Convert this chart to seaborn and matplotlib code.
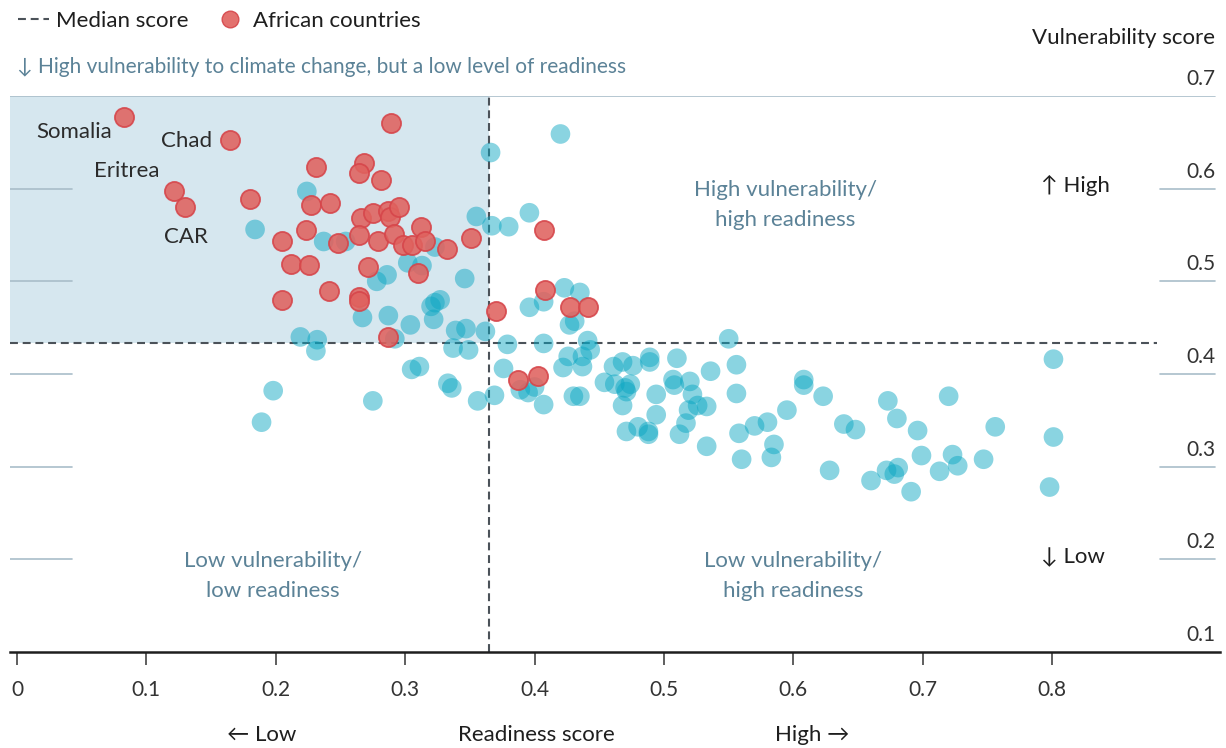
import numpy as np
import pandas as pd
import matplotlib.pyplot as plt
import seaborn as sns
from matplotlib.lines import Line2D
from matplotlib.patches import Rectangle

# Values: readiness score (x) and vulnerability score (y)
african_readiness = [
    0.083, 0.165, 0.289, 0.121, 0.130, 0.231, 0.268, 0.264, 0.281, 0.180,
    0.227, 0.242, 0.266, 0.275, 0.287, 0.288, 0.295, 0.312, 0.223, 0.264,
    0.205, 0.248, 0.279, 0.291, 0.298, 0.305, 0.315, 0.332, 0.351, 0.212,
    0.226, 0.271, 0.310, 0.241, 0.264, 0.264, 0.205, 0.370, 0.287, 0.407,
    0.408, 0.427, 0.441, 0.387, 0.403,
]
african_vulnerability = [
    0.677, 0.652, 0.671, 0.597, 0.580, 0.623, 0.628, 0.617, 0.609, 0.589,
    0.582, 0.585, 0.568, 0.574, 0.576, 0.569, 0.580, 0.559, 0.555, 0.550,
    0.544, 0.541, 0.544, 0.551, 0.539, 0.539, 0.543, 0.535, 0.547, 0.519,
    0.518, 0.515, 0.509, 0.490, 0.483, 0.479, 0.480, 0.468, 0.440, 0.555,
    0.491, 0.472, 0.472, 0.394, 0.398,
]
other_readiness = [
    0.420, 0.366, 0.224, 0.184, 0.396, 0.355, 0.367, 0.380, 0.237, 0.254,
    0.323, 0.302, 0.313, 0.286, 0.278, 0.346, 0.423, 0.435, 0.396, 0.407,
    0.327, 0.323, 0.320, 0.267, 0.287, 0.304, 0.322, 0.427, 0.431, 0.339,
    0.347, 0.362, 0.292, 0.441, 0.379, 0.407, 0.219, 0.232, 0.231, 0.337,
    0.349, 0.443, 0.437, 0.426, 0.422, 0.437, 0.376, 0.305, 0.311, 0.333,
    0.336, 0.389, 0.395, 0.400, 0.369, 0.356, 0.407, 0.430, 0.435, 0.275,
    0.198, 0.189,
    0.461, 0.468, 0.476, 0.489, 0.489, 0.510, 0.536, 0.556, 0.550, 0.454,
    0.462, 0.470, 0.474, 0.471, 0.507, 0.508, 0.520, 0.522, 0.494, 0.468,
    0.494, 0.526, 0.533, 0.519, 0.517, 0.512, 0.471, 0.480, 0.488, 0.488,
    0.556, 0.608, 0.608, 0.623, 0.595, 0.570, 0.580, 0.558, 0.585, 0.583,
    0.560, 0.533, 0.628, 0.639, 0.648, 0.673, 0.680, 0.696, 0.720, 0.756,
    0.660, 0.672, 0.681, 0.678, 0.691, 0.699, 0.713, 0.723, 0.727, 0.747,
    0.801, 0.801, 0.798,
]
other_vulnerability = [
    0.659, 0.639, 0.597, 0.556, 0.574, 0.570, 0.560, 0.559, 0.543, 0.543,
    0.537, 0.520, 0.517, 0.507, 0.500, 0.503, 0.493, 0.488, 0.472, 0.478,
    0.480, 0.477, 0.473, 0.461, 0.463, 0.453, 0.459, 0.453, 0.457, 0.447,
    0.449, 0.446, 0.438, 0.436, 0.432, 0.433, 0.440, 0.437, 0.425, 0.428,
    0.426, 0.426, 0.419, 0.419, 0.407, 0.408, 0.406, 0.405, 0.408, 0.390,
    0.385, 0.383, 0.380, 0.386, 0.377, 0.371, 0.367, 0.376, 0.376, 0.371,
    0.382, 0.348,
    0.408, 0.413, 0.409, 0.418, 0.413, 0.417, 0.403, 0.410, 0.438, 0.391,
    0.389, 0.385, 0.389, 0.381, 0.394, 0.388, 0.392, 0.378, 0.378, 0.366,
    0.356, 0.366, 0.365, 0.361, 0.347, 0.335, 0.338, 0.343, 0.338, 0.335,
    0.379, 0.394, 0.388, 0.376, 0.361, 0.344, 0.348, 0.336, 0.324, 0.310,
    0.308, 0.322, 0.296, 0.346, 0.340, 0.371, 0.352, 0.339, 0.376, 0.343,
    0.285, 0.296, 0.299, 0.292, 0.273, 0.312, 0.295, 0.313, 0.301, 0.308,
    0.416, 0.332, 0.278,
]
labelled = ["Somalia", "Chad", "Eritrea", "CAR"]
labelled_index = [0, 1, 3, 4]

median_readiness = 0.365
median_vulnerability = 0.433

x_ticks = [0, 0.1, 0.2, 0.3, 0.4, 0.5, 0.6, 0.7, 0.8]
x_tick_labels = ["0", "0.1", "0.2", "0.3", "0.4", "0.5", "0.6", "0.7", "0.8"]
y_ticks = [0.1, 0.2, 0.3, 0.4, 0.5, 0.6, 0.7]
y_tick_labels = ["0.1", "0.2", "0.3", "0.4", "0.5", "0.6", "0.7"]

africa = pd.DataFrame({"readiness": african_readiness, "vulnerability": african_vulnerability})
others = pd.DataFrame({"readiness": other_readiness, "vulnerability": other_vulnerability})

BLUE = "#0aa6c2"
RED_FILL = "#e0625e"
RED_EDGE = "#d6454a"
DASH = "#4b5259"
SLATE = "#5b8297"
GRID = "#a9bdc9"
DARK = "#1e1e1e"

sns.set_theme(style="white")
plt.rcParams["font.family"] = ["Lato", "DejaVu Sans"]

fig = plt.figure(figsize=(12.26, 7.48), dpi=100)
ax = fig.add_axes([10 / 1226, 96 / 748, 1210 / 1226, 556 / 748])
x_left, x_right = -0.0054, 0.9297
ax.set_xlim(x_left, x_right)
ax.set_ylim(0.1, 0.7)

# shaded quadrant: high vulnerability, low readiness
ax.add_patch(Rectangle((x_left, median_vulnerability), median_readiness - x_left,
                       0.7 - median_vulnerability, facecolor="#d6e7ef",
                       edgecolor="none", zorder=0))

# gridlines: full at the top, short stubs at both sides otherwise
for y in y_ticks[1:-1]:
    ax.axhline(y, xmin=0, xmax=0.051, color=GRID, lw=1.2, zorder=1)
    ax.axhline(y, xmin=0.950, xmax=0.996, color=GRID, lw=1.2, zorder=1)
ax.axhline(0.7, xmin=0, xmax=0.996, color=GRID, lw=1.2, zorder=1)

for y, lab in zip(y_ticks, y_tick_labels):
    ax.annotate(lab, xy=(0.996, y), xycoords=("axes fraction", "data"),
                xytext=(0, 7), textcoords="offset pixels", ha="right",
                va="bottom", fontsize=15, color="#333333")

# median lines
dash = (0, (3.8, 2.3))
ax.axhline(median_vulnerability, xmin=0, xmax=0.948, color=DASH, lw=1.5, ls=dash, zorder=2)
ax.axvline(median_readiness, ymin=0, ymax=1, color=DASH, lw=1.5, ls=dash, zorder=2)

sns.scatterplot(data=others, x="readiness", y="vulnerability", ax=ax, s=200,
                color=BLUE, alpha=0.48, edgecolor="none", linewidth=0, zorder=3)
sns.scatterplot(data=africa, x="readiness", y="vulnerability", ax=ax, s=190,
                facecolor=RED_FILL, alpha=0.88, edgecolor=RED_EDGE, linewidth=1.3,
                zorder=4)

# country labels
offsets = {"Somalia": (-12, -15, "right"), "Chad": (-18, -1, "right"),
           "Eritrea": (-14, 20, "right"), "CAR": (1, -30, "center")}
for name, i in zip(labelled, labelled_index):
    dx, dy, ha = offsets[name]
    ax.annotate(name, xy=(african_readiness[i], african_vulnerability[i]),
                xytext=(dx, dy), textcoords="offset pixels", ha=ha, va="center",
                fontsize=16, color="#2b2b2b")

# quadrant labels
quad_kw = dict(ha="center", va="center", fontsize=16, color=SLATE, linespacing=1.6)
ax.text(0.594, 0.5826, "High vulnerability/\nhigh readiness", **quad_kw)
ax.text(0.198, 0.1817, "Low vulnerability/\nlow readiness", **quad_kw)
ax.text(0.600, 0.1817, "Low vulnerability/\nhigh readiness", **quad_kw)
ax.text(0.8176, 0.603, "\u2191 High", ha="center", va="center", fontsize=16, color=DARK)
ax.text(0.816, 0.2021, "\u2193 Low", ha="center", va="center", fontsize=16, color=DARK)

# axes styling
for side in ["top", "left", "right"]:
    ax.spines[side].set_visible(False)
ax.spines["bottom"].set_color(DARK)
ax.spines["bottom"].set_linewidth(1.8)
ax.set_yticks([])
ax.set_xticks(x_ticks)
ax.set_xticklabels(x_tick_labels)
ax.tick_params(axis="x", direction="out", length=9, width=1.1, color="#333333",
               labelsize=15, labelcolor="#333333", pad=11, bottom=True)
ax.set_xlabel("")
ax.set_ylabel("")
ax.set_facecolor("none")

# titles and axis captions
fig.text(1215 / 1226, 1 - 38 / 748, "Vulnerability score", ha="right", va="center",
         fontsize=16, color=DARK)
fig.text(17 / 1226, 1 - 67 / 748,
         "\u2193 High vulnerability to climate change, but a low level of readiness",
         ha="left", va="center", fontsize=15, color=SLATE)
fig.text(262 / 1226, 1 - 735 / 748, "\u2190 Low", ha="center", va="center",
         fontsize=16, color=DARK)
fig.text(536 / 1226, 1 - 735 / 748, "Readiness score", ha="center", va="center",
         fontsize=16, color=DARK)
fig.text(812 / 1226, 1 - 735 / 748, "High \u2192", ha="center", va="center",
         fontsize=16, color=DARK)

handles = [
    Line2D([0], [0], color=DASH, lw=1.5, ls=dash),
    Line2D([0], [0], marker="o", ls="", markersize=12, markerfacecolor=RED_FILL,
           markeredgecolor=RED_EDGE, markeredgewidth=1.0, alpha=0.9),
]
fig.legend(handles, ["Median score", "African countries"], loc="center left",
           bbox_to_anchor=(18 / 1226, 1 - 21 / 748), ncol=2, frameon=False,
           fontsize=16, handlelength=1.4, handletextpad=0.3, columnspacing=1.2,
           borderpad=0, borderaxespad=0, labelcolor=DARK)

fig.savefig("out.png", dpi=100)
